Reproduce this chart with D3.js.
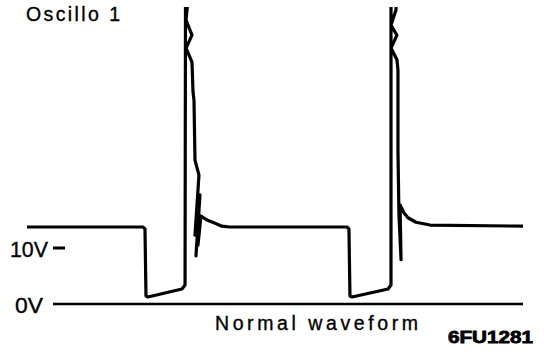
<!DOCTYPE html>
<html>
<head>
<meta charset="utf-8">
<script src="https://cdn.jsdelivr.net/npm/d3@7"></script>
<style>
  html, body { margin: 0; padding: 0; background: #fff; }
  svg { display: block; }
  text { font-family: "Liberation Sans", Arial, sans-serif; fill: #000; stroke: #000; stroke-width: 0.35; }
</style>
</head>
<body>
<svg id="chart" width="544" height="358"></svg>
<script>
// ---- data (time in ms, voltage in V) ----
const title = "Oscillo 1";
const caption = "Normal waveform";
const figureId = "6FU1281";
const tickValues = [0, 10];
const tickLabels = ["0V", "10V"];

const traceTime = [
  0, 11.67, 11.87, 11.97, 12.17, 15.59, 15.9, 15.95,
  16.5, 16.0, 16.6, 16.0, 16.6, 16.7, 16.8, 16.9, 17.3, 16.9, 17.4, 17.0, 17.3, 17.2, 17.5,
  18.1, 18.8, 19.6, 20.4,
  32.19, 32.39, 32.49, 32.7, 36.32, 36.62, 36.62,
  37.32, 37.12, 36.62, 37.22, 36.62, 37.22, 37.32, 37.32, 37.42, 37.63, 37.53, 37.93, 38.33,
  39.13, 40.54, 49.9
];
const traceVolt = [
  13.75, 13.75, 13.4, 1.43, 1.25, 2.68, 3.39, 60,
  60, 50.7, 48.0, 45.7, 43.2, 37.9, 36.4, 25.7, 23.0, 12.3, 19.5, 8.6, 16.8, 10.5, 15.7,
  15.0, 14.5, 13.9, 13.75,
  13.75, 13.4, 1.43, 1.25, 2.68, 3.39, 60,
  60, 52.5, 49.8, 48.0, 45.7, 43.6, 41.8, 27.5, 15.9, 7.9, 17.7, 16.25, 15.4,
  14.6, 14.1, 13.9
];

// ---- layout ----
const svg = d3.select("#chart");
const x = d3.scaleLinear().domain([0, 50]).range([27, 524]);
const y = d3.scaleLinear().domain([0, 10]).range([304, 248]);

svg.append("defs").append("clipPath").attr("id", "clip")
  .append("rect").attr("x", 0).attr("y", 7).attr("width", 544).attr("height", 351);

// 0V baseline
svg.append("line")
  .attr("x1", 53).attr("x2", 523)
  .attr("y1", y(0)).attr("y2", y(0))
  .attr("stroke", "#000").attr("stroke-width", 2.6);

// 10V tick dash
svg.append("line")
  .attr("x1", 53).attr("x2", 65)
  .attr("y1", y(10)).attr("y2", y(10))
  .attr("stroke", "#000").attr("stroke-width", 3);

// tick labels
const labelX = [15, 10];
const labelW = [28, 38];
tickValues.forEach((v, i) => {
  svg.append("text")
    .attr("x", labelX[i]).attr("y", y(v) + 9)
    .attr("font-size", 22.5)
    .attr("textLength", labelW[i]).attr("lengthAdjust", "spacingAndGlyphs")
    .text(tickLabels[i]);
});

// trace
const pts = traceTime.map((t, i) => [t, traceVolt[i]]);
svg.append("path")
  .datum(pts)
  .attr("clip-path", "url(#clip)")
  .attr("fill", "none")
  .attr("stroke", "#000")
  .attr("stroke-width", 3.2)
  .attr("stroke-linejoin", "round")
  .attr("stroke-linecap", "butt")
  .attr("d", d3.line().x(d => x(d[0])).y(d => y(d[1])));

// texts
svg.append("text").attr("x", 26).attr("y", 21)
  .attr("font-size", 19.5)
  .attr("textLength", 94).attr("lengthAdjust", "spacing")
  .text(title);

svg.append("text").attr("x", 215).attr("y", 330)
  .attr("font-size", 19.5)
  .attr("textLength", 203).attr("lengthAdjust", "spacing")
  .text(caption);

svg.append("text").attr("x", 448).attr("y", 343)
  .attr("font-size", 17).attr("font-weight", "bold")
  .style("stroke-width", 0.8)
  .attr("textLength", 85).attr("lengthAdjust", "spacingAndGlyphs")
  .text(figureId);
</script>
</body>
</html>
